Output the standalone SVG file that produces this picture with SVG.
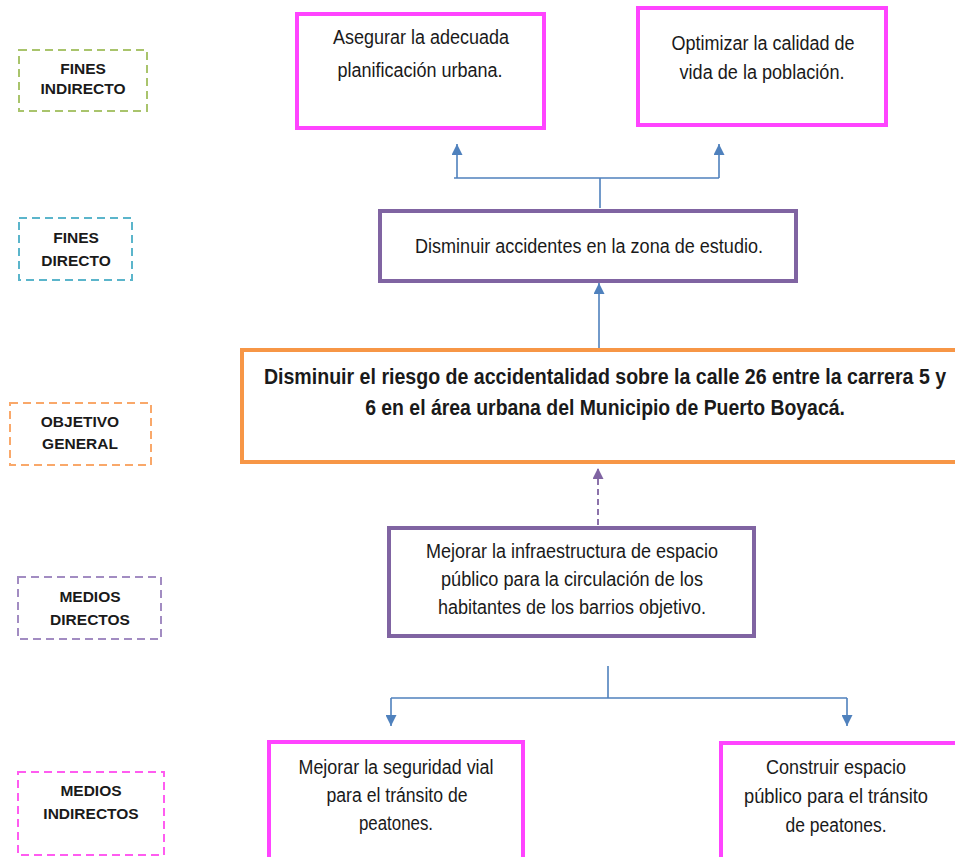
<svg xmlns="http://www.w3.org/2000/svg" width="955" height="857" viewBox="0 0 955 857">
<defs>
<style>
.lbl{fill:none;stroke-width:2;stroke-dasharray:8 5}
.lt{font-family:"Liberation Sans",Arial,sans-serif;font-weight:bold;font-size:15.5px;fill:#1a1a1a;text-anchor:middle}
.nt{font-family:"Liberation Sans",Arial,sans-serif;font-size:19.5px;fill:#1a1a1a;text-anchor:middle}
.bt{font-family:"Liberation Sans",Arial,sans-serif;font-weight:bold;font-size:21.5px;fill:#1a1a1a;text-anchor:middle}
.mag{fill:#fff;stroke:#ff44ff;stroke-width:4}
.pur{fill:#fff;stroke:#8064a2;stroke-width:4}
.org{fill:#fff;stroke:#f79646;stroke-width:4}
.con{fill:none;stroke:#4f81bd;stroke-width:1.6}
</style>
<marker id="ab" viewBox="0 0 10 10" refX="10" refY="5" markerWidth="11" markerHeight="11" markerUnits="userSpaceOnUse" orient="auto">
<path d="M0,0 L10,5 L0,10 Z" fill="#4f81bd"/>
</marker>
<marker id="ap" viewBox="0 0 10 10" refX="10" refY="5" markerWidth="11" markerHeight="11" markerUnits="userSpaceOnUse" orient="auto">
<path d="M0,0 L10,5 L0,10 Z" fill="#8064a2"/>
</marker>
</defs>
<rect width="955" height="857" fill="#fff"/>

<g id="lbl-fines-indirecto">
<rect class="lbl" x="19" y="50" width="128" height="61" stroke="#a9c46c"/>
<text class="lt" x="83" y="74">FINES</text>
<text class="lt" x="83" y="94">INDIRECTO</text>
</g>
<g id="lbl-fines-directo">
<rect class="lbl" x="19" y="218" width="113" height="62" stroke="#5bb5cb"/>
<text class="lt" x="76" y="243">FINES</text>
<text class="lt" x="76" y="266">DIRECTO</text>
</g>
<g id="lbl-objetivo-general">
<rect class="lbl" x="10" y="403" width="141" height="62" stroke="#f9a86a"/>
<text class="lt" x="80" y="427">OBJETIVO</text>
<text class="lt" x="80" y="449">GENERAL</text>
</g>
<g id="lbl-medios-directos">
<rect class="lbl" x="18" y="577" width="143" height="62" stroke="#a28cc2"/>
<text class="lt" x="90" y="602">MEDIOS</text>
<text class="lt" x="90" y="625">DIRECTOS</text>
</g>
<g id="lbl-medios-indirectos">
<rect class="lbl" x="18" y="772" width="146" height="83" stroke="#ff5cf0"/>
<text class="lt" x="91" y="796">MEDIOS</text>
<text class="lt" x="91" y="819">INDIRECTOS</text>
</g>

<g id="connectors">
<path class="con" d="M600,208 V178"/>
<path class="con" d="M454,178 H719"/>
<path class="con" d="M457,178 V144" marker-end="url(#ab)"/>
<path class="con" d="M719,178 V144" marker-end="url(#ab)"/>
<path class="con" d="M599,348 V283" marker-end="url(#ab)"/>
<path d="M598,525 V468" fill="none" stroke="#8064a2" stroke-width="1.8" stroke-dasharray="6 4" marker-end="url(#ap)"/>
<path class="con" d="M608,666 V698"/>
<path class="con" d="M391,698 H847"/>
<path class="con" d="M391,698 V726" marker-end="url(#ab)"/>
<path class="con" d="M847,698 V726" marker-end="url(#ab)"/>
</g>

<g id="n-asegurar">
<rect class="mag" x="297" y="14" width="247" height="114"/>
<text class="nt" x="421" y="44" textLength="176" lengthAdjust="spacingAndGlyphs">Asegurar la adecuada</text>
<text class="nt" x="420" y="77" textLength="165" lengthAdjust="spacingAndGlyphs">planificación urbana.</text>
</g>
<g id="n-optimizar">
<rect class="mag" x="638" y="8" width="248" height="117"/>
<text class="nt" x="763" y="50" textLength="183" lengthAdjust="spacingAndGlyphs">Optimizar la calidad de</text>
<text class="nt" x="762" y="79" textLength="165" lengthAdjust="spacingAndGlyphs">vida de la población.</text>
</g>
<g id="n-disminuir">
<rect class="pur" x="380" y="211" width="416" height="70"/>
<text class="nt" x="589" y="253" textLength="348" lengthAdjust="spacingAndGlyphs">Disminuir accidentes en la zona de estudio.</text>
</g>
<g id="n-objetivo">
<rect class="org" x="242" y="350" width="716" height="112"/>
<g transform="translate(605,0) scale(0.9,1)">
<text class="bt" x="0" y="384" textLength="758" lengthAdjust="spacingAndGlyphs">Disminuir el riesgo de accidentalidad sobre la calle 26 entre la carrera 5 y</text>
<text class="bt" x="0" y="415" textLength="533" lengthAdjust="spacingAndGlyphs">6 en el área urbana del Municipio de Puerto Boyacá.</text>
</g>
</g>
<g id="n-mejorar-infra">
<rect class="pur" x="389" y="528" width="365" height="108"/>
<text class="nt" x="572" y="558" textLength="292" lengthAdjust="spacingAndGlyphs">Mejorar la infraestructura de espacio</text>
<text class="nt" x="572" y="586" textLength="262" lengthAdjust="spacingAndGlyphs">público para la circulación de los</text>
<text class="nt" x="572" y="614" textLength="268" lengthAdjust="spacingAndGlyphs">habitantes de los barrios objetivo.</text>
</g>
<g id="n-mejorar-seguridad">
<rect class="mag" x="269" y="742" width="254" height="120"/>
<text class="nt" x="396" y="774" textLength="195" lengthAdjust="spacingAndGlyphs">Mejorar la seguridad vial</text>
<text class="nt" x="397" y="802" textLength="141" lengthAdjust="spacingAndGlyphs">para el tránsito de</text>
<text class="nt" x="396" y="830" textLength="74" lengthAdjust="spacingAndGlyphs">peatones.</text>
</g>
<g id="n-construir">
<rect class="mag" x="721" y="743" width="240" height="120"/>
<text class="nt" x="836" y="774" textLength="140" lengthAdjust="spacingAndGlyphs">Construir espacio</text>
<text class="nt" x="836" y="803" textLength="184" lengthAdjust="spacingAndGlyphs">público para el tránsito</text>
<text class="nt" x="836" y="832" textLength="101" lengthAdjust="spacingAndGlyphs">de peatones.</text>
</g>
</svg>
